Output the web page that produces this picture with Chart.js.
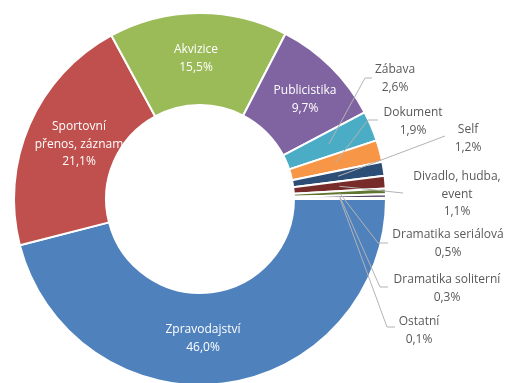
<!DOCTYPE html>
<html><head><meta charset="utf-8">
<script src="https://cdn.jsdelivr.net/npm/chart.js@4.4.0/dist/chart.umd.min.js"></script>
<style>html,body{margin:0;padding:0;background:#fff;overflow:hidden;width:508px;height:383px}
#wrap{position:absolute;left:0;top:0;width:508px;height:388px}</style>
</head><body><div id="wrap"><canvas id="c" width="508" height="388"></canvas></div>
<script>
const categories = ["Zpravodajství","Sportovní přenos, záznam","Akvizice","Publicistika","Zábava","Dokument","Self","Divadlo, hudba, event","Dramatika seriálová","Dramatika soliterní","Ostatní"];
const values = [46.0,21.1,15.5,9.7,2.6,1.9,1.2,1.1,0.5,0.3,0.1];
const valueLabels = ["46,0%","21,1%","15,5%","9,7%","2,6%","1,9%","1,2%","1,1%","0,5%","0,3%","0,1%"];
const labelLines = [["Zpravodajství"],["Sportovní","přenos, záznam"],["Akvizice"],["Publicistika"],["Zábava"],["Dokument"],["Self"],["Divadlo, hudba,","event"],["Dramatika seriálová"],["Dramatika soliterní"],["Ostatní"]];
const colors = ["#4F81BD","#C0504D","#9BBB59","#8064A2","#4BACC6","#F79646","#2C4D75","#772C2A","#5F7530","#4D3B62","#276A7C"];

// label layout: text centre x, first line y, inside?, leader path (elbow points; last point = arc centre from library)
const layout = [
  {x:203,y:330,inside:true},
  {x:79,y:127,inside:true},
  {x:196,y:50,inside:true},
  {x:305,y:91,inside:true},
  {x:395,y:70,lead:[[372,78],[365,78]]},
  {x:413,y:113,lead:[[378,120],[368,120]]},
  {x:468,y:130,lead:[[445,136]]},
  {x:457,y:177,lead:[[403,193]]},
  {x:448,y:235,lead:[[388,243],[378,243]]},
  {x:447,y:280,lead:[[388,287],[380,287]]},
  {x:419,y:322,lead:[[395,327],[387,327]]}
];
const lh = 17.5;
const labelPlugin = {
  id:'labels',
  afterDatasetsDraw(chart){
    const ctx = chart.ctx;
    const meta = chart.getDatasetMeta(0);
    ctx.save();
    ctx.font = '12px "Open Sans", "DejaVu Sans", sans-serif';
    ctx.textAlign = 'center';
    ctx.textBaseline = 'middle';
    layout.forEach((L,i)=>{
      const arc = meta.data[i];
      if(L.lead){
        const p = arc.getCenterPoint();
        ctx.strokeStyle = '#b3b3b3';
        ctx.lineWidth = 1;
        ctx.beginPath();
        ctx.moveTo(L.lead[0][0],L.lead[0][1]);
        for(let k=1;k<L.lead.length;k++) ctx.lineTo(L.lead[k][0],L.lead[k][1]);
        ctx.lineTo(p.x,p.y);
        ctx.stroke();
      }
      ctx.fillStyle = L.inside ? '#ffffff' : '#595959';
      const lines = labelLines[i].concat([valueLabels[i]]);
      lines.forEach((t,k)=>ctx.fillText(t,L.x,L.y+k*lh));
    });
    ctx.restore();
  }
};
new Chart(document.getElementById('c'),{
  type:'doughnut',
  data:{labels:categories,datasets:[{data:values,backgroundColor:colors,borderColor:'#ffffff',borderWidth:2}]},
  options:{
    responsive:false,animation:false,
    rotation:90,cutout:'50.5%',
    layout:{padding:{left:13,top:12,right:121,bottom:2}},
    plugins:{legend:{display:false},tooltip:{enabled:false}}
  },
  plugins:[labelPlugin]
});
</script></body></html>
